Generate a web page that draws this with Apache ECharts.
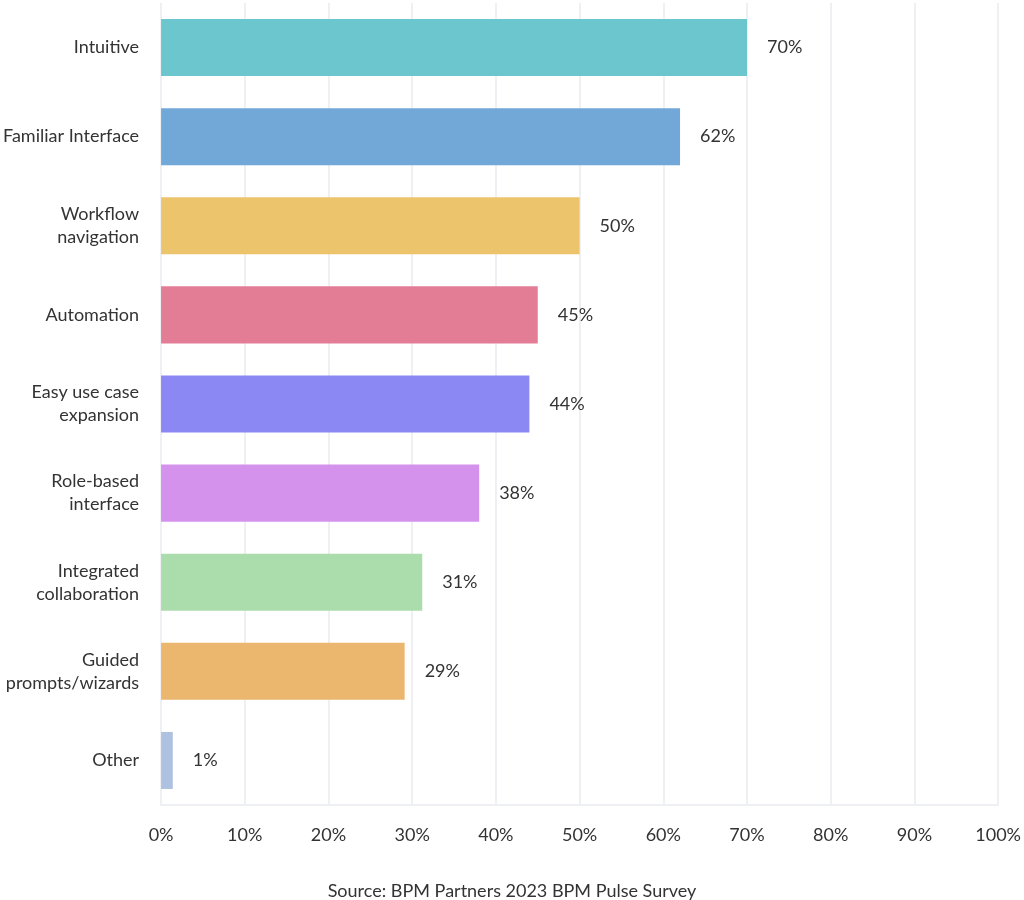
<!DOCTYPE html>
<html>
<head>
<meta charset="utf-8">
<script src="https://cdn.jsdelivr.net/npm/echarts@6/dist/echarts.min.js"></script>
<style>
  html, body { margin: 0; padding: 0; background: #fff; }
  #chart { width: 1024px; height: 900px; }
</style>
</head>
<body>
<div id="chart"></div>
<script>
// categories, top to bottom
var categories = [
    'Intuitive',
    'Familiar Interface',
    'Workflow\nnavigation',
    'Automation',
    'Easy use case\nexpansion',
    'Role-based\ninterface',
    'Integrated\ncollaboration',
    'Guided\nprompts/wizards',
    'Other'
];
// bar lengths as drawn in the picture (percent)
var values = [70, 62, 50, 45, 44, 38, 31.2, 29.1, 1.4];
var labels = ['70%', '62%', '50%', '45%', '44%', '38%', '31%', '29%', '1%'];
var colors = ['#6cc6ce', '#72a8d8', '#ecc46c', '#e37c95', '#8b88f3', '#d492ec', '#abdcab', '#ebb76e', '#afc1e0'];

var chart = echarts.init(document.getElementById('chart'));

var option = {
    backgroundColor: '#ffffff',
    textStyle: { fontFamily: 'Lato' },
    title: {
        text: 'Source: BPM Partners 2023 BPM Pulse Survey',
        left: 'center',
        top: 877,
        textStyle: { fontFamily: 'Lato', fontSize: 18, fontWeight: 'normal', color: '#333' }
    },
    grid: { left: 160, right: 23, top: 3, bottom: 95 },
    xAxis: {
        type: 'value',
        min: 0,
        max: 100,
        interval: 10,
        axisLine: { show: true, lineStyle: { color: '#eef0f4', width: 2 } },
        axisTick: { show: false },
        splitLine: { lineStyle: { color: '#eef0f4', width: 2 } },
        axisLabel: {
            formatter: '{value}%',
            fontFamily: 'Lato',
            fontSize: 18,
            color: '#333',
            margin: 21
        }
    },
    yAxis: {
        type: 'category',
        inverse: true,
        data: categories,
        axisLine: { show: false },
        axisTick: { show: false },
        axisLabel: {
            fontFamily: 'Lato',
            fontSize: 18,
            lineHeight: 23,
            color: '#333',
            margin: 22,
            align: 'right'
        }
    },
    series: [{
        type: 'bar',
        barWidth: '64%',
        data: values.map(function (v, i) {
            return { value: v, itemStyle: { color: colors[i] } };
        }),
        label: {
            show: true,
            position: 'right',
            distance: 20,
            fontFamily: 'Lato',
            fontSize: 18,
            color: '#333',
            formatter: function (p) { return labels[p.dataIndex]; }
        },
        silent: true
    }]
};

chart.setOption(option);
</script>
</body>
</html>
